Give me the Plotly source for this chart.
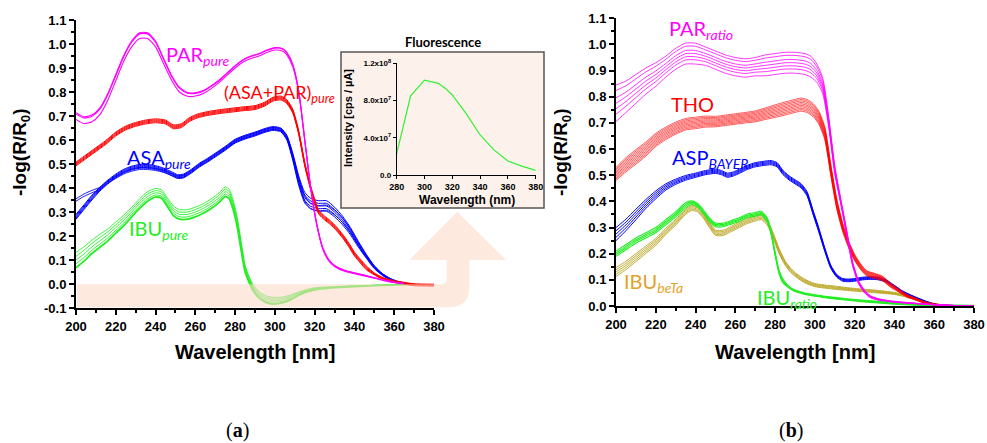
import plotly.graph_objects as go

W, H = 987, 443
def px(x): return x / W
def py(y): return 1 - y / H

# ---------------- Panel (a) data ----------------
WL_PAR_A = [200,204,208,212,216,220,224,228,232,236,240,244,248,252,256,260,264,268,272,276,280,284,288,292,296,300,304,306,309,312,315,318,321,324,327,330,335,340,345,350,355,360,365]
Y_PAR_A  = [0.70,0.683,0.69,0.72,0.78,0.86,0.94,1.00,1.035,1.035,1.00,0.93,0.86,0.81,0.79,0.79,0.80,0.82,0.845,0.875,0.905,0.93,0.945,0.955,0.97,0.98,0.975,0.96,0.91,0.80,0.60,0.40,0.25,0.15,0.10,0.075,0.055,0.045,0.035,0.025,0.015,0.007,0.002]
S_PAR_A  = [0.014,0.014,0.014,0.014,0.014,0.013,0.012,0.012,0.012,0.012,0.012,0.011,0.01,0.01,0.008,0.007,0.006,0.006,0.005,0.005,0.005,0.005,0.005,0.005,0.005,0.005,0.005,0.005,0.005,0.004,0.004,0.004,0.003,0.003,0.003,0.002,0.002,0.002,0.002,0.001,0.001,0.001,0.0]
K_PAR_A  = [1.0, 0.6, -1.0]

WL_MIX_A = [200,205,210,215,220,225,230,235,240,245,249,253,257,261,266,272,278,284,290,295,299,303,306,309,312,315,318,322,325,328,331,334,337,340,343,346,350,353,356,360,365,370,380]
Y_MIX_A  = [0.50,0.53,0.56,0.59,0.625,0.65,0.665,0.675,0.68,0.675,0.655,0.66,0.685,0.70,0.71,0.718,0.724,0.73,0.735,0.75,0.77,0.775,0.76,0.72,0.63,0.50,0.40,0.30,0.275,0.255,0.23,0.20,0.165,0.125,0.095,0.067,0.042,0.028,0.018,0.01,0.003,-0.003,-0.005]
S_MIX_A  = [0.008]*36 + [0.004]*7
K_MIX_A  = [-1.0, -0.5, 0.0, 0.5, 1.0]

WL_ASA_A = [200,204,208,212,216,220,224,228,232,236,240,244,248,251,254,258,262,266,270,275,280,285,290,295,299,303,306,309,312,315,318,322,326,330,334,338,342,346,350,354,358,362,366]
Y_ASA_A  = [0.28,0.32,0.36,0.395,0.425,0.45,0.47,0.483,0.49,0.49,0.485,0.475,0.46,0.448,0.45,0.47,0.495,0.515,0.537,0.565,0.595,0.612,0.625,0.64,0.648,0.642,0.61,0.53,0.43,0.36,0.335,0.325,0.325,0.30,0.265,0.22,0.165,0.115,0.07,0.04,0.02,0.008,0.002]
S_ASA_A  = [0.01,0.01,0.01,0.008,0.008,0.008,0.008,0.008,0.008,0.008,0.008,0.008,0.008,0.008,0.008,0.008,0.008,0.008,0.008,0.008,0.008,0.008,0.008,0.008,0.008,0.008,0.01,0.015,0.02,0.022,0.022,0.022,0.022,0.02,0.018,0.015,0.012,0.008,0.006,0.004,0.003,0.002,0.001]
D_ASA_ALT = [0.065,0.045,0.02,0.0,-0.005,-0.01,-0.012,-0.013,-0.013,-0.013,-0.012,-0.01,-0.008,-0.006,-0.005,-0.004,-0.004,-0.004,-0.004,-0.004,-0.004,-0.004,-0.004,-0.004,-0.004,-0.004,-0.004,-0.006,-0.01,-0.015,-0.02,-0.02,-0.018,-0.012,-0.008,-0.005,-0.004,-0.003,-0.002,-0.001,0.0,0.0,0.0]
K_ASA_A  = [-1.0, -0.5, 0.0, 0.5, 1.0]
K_ASA_ALT = [0.0, 1.0]

WL_IBU_A = [200,204,208,212,216,220,224,228,232,236,240,243,246,249,252,256,260,264,268,272,275,277,279,281,283,285,287,289,292,296,300,304,308,312,316,320,325,330,340,350,360,370]
Y_IBU_A  = [0.10,0.125,0.155,0.18,0.205,0.235,0.265,0.30,0.335,0.365,0.38,0.375,0.34,0.305,0.29,0.29,0.30,0.315,0.335,0.36,0.385,0.375,0.33,0.26,0.16,0.065,0.02,-0.015,-0.045,-0.065,-0.07,-0.066,-0.055,-0.04,-0.028,-0.02,-0.016,-0.013,-0.009,-0.006,-0.003,-0.001]
S_IBU_A  = [0.032,0.03,0.028,0.027,0.025,0.023,0.022,0.02,0.02,0.02,0.018,0.018,0.018,0.02,0.02,0.02,0.02,0.02,0.02,0.02,0.02,0.02,0.02,0.02,0.018,0.014,0.012,0.012,0.013,0.014,0.014,0.012,0.01,0.007,0.005,0.004,0.003,0.002,0.002,0.001,0.001,0.0]
K_IBU_A  = [-1.0, -0.5, 0.0, 0.5, 1.0]

# ---------------- Inset (fluorescence) ----------------
WL_FL = [280,290,300,310,315,320,330,340,350,360,370,380]
I_FL  = [2.3e7,8.5e7,10.2e7,9.85e7,9.3e7,8.6e7,6.6e7,4.3e7,2.7e7,1.5e7,0.95e7,0.5e7]

# ---------------- Panel (b) data ----------------
WL_PAR_B = [200,205,210,215,220,225,230,235,240,245,250,255,260,265,270,275,280,285,290,295,298,301,304,307,310,313,316,319,322,325,328,332,336,340,350,360,370,380]
Y_PAR_B  = [0.775,0.80,0.83,0.86,0.885,0.915,0.945,0.965,0.965,0.955,0.94,0.925,0.915,0.91,0.915,0.92,0.925,0.93,0.93,0.925,0.915,0.89,0.84,0.70,0.52,0.40,0.28,0.16,0.09,0.055,0.035,0.025,0.02,0.016,0.01,0.005,0.002,0.0]
S_PAR_B  = [0.07,0.06,0.055,0.05,0.045,0.04,0.04,0.04,0.04,0.035,0.035,0.035,0.035,0.035,0.035,0.04,0.04,0.04,0.04,0.04,0.04,0.035,0.03,0.02,0.015,0.01,0.01,0.008,0.006,0.005,0.004,0.003,0.002,0.002,0.001,0.001,0.0,0.0]
K_PAR_B  = [-1.0, -0.6, -0.3, 0.0, 0.3, 0.7, 1.0]

WL_THO_B = [200,205,210,215,220,225,230,235,240,245,250,255,260,265,270,275,280,285,290,293,296,299,302,305,308,311,314,317,320,323,326,330,334,338,342,346,350,355,360,365,370,380]
Y_THO_B  = [0.505,0.54,0.57,0.60,0.635,0.66,0.68,0.695,0.70,0.705,0.705,0.71,0.715,0.72,0.725,0.735,0.745,0.755,0.765,0.77,0.765,0.75,0.72,0.66,0.52,0.39,0.30,0.235,0.185,0.15,0.125,0.115,0.105,0.08,0.06,0.04,0.028,0.014,0.006,0.003,0.001,0.0]
S_THO_B  = [0.025,0.027,0.028,0.027,0.025,0.024,0.023,0.022,0.022,0.021,0.02,0.02,0.02,0.02,0.021,0.022,0.024,0.025,0.025,0.025,0.025,0.025,0.025,0.025,0.022,0.02,0.016,0.013,0.012,0.011,0.01,0.01,0.009,0.008,0.006,0.005,0.004,0.003,0.002,0.001,0.0,0.0]
K_THO_B  = [-1.0, -0.78, -0.56, -0.33, -0.11, 0.11, 0.33, 0.56, 0.78, 1.0]

WL_ASP_B = [200,205,210,215,220,225,230,235,240,245,250,253,256,259,262,266,270,274,278,281,284,287,290,293,296,299,302,305,308,311,314,317,320,324,328,332,336,340,344,348,352,356,360,365,370,380]
Y_ASP_B  = [0.275,0.31,0.35,0.39,0.425,0.455,0.475,0.49,0.50,0.51,0.515,0.51,0.50,0.505,0.515,0.53,0.54,0.545,0.548,0.54,0.51,0.49,0.475,0.46,0.43,0.36,0.29,0.215,0.15,0.115,0.10,0.098,0.10,0.105,0.107,0.105,0.095,0.075,0.055,0.04,0.028,0.016,0.007,0.002,0.0,0.0]
S_ASP_B  = [0.025,0.022,0.02,0.017,0.015,0.012,0.01,0.009,0.008,0.008,0.008,0.008,0.008,0.008,0.008,0.008,0.008,0.008,0.008,0.008,0.008,0.008,0.008,0.008,0.008,0.008,0.008,0.007,0.006,0.005,0.005,0.005,0.005,0.005,0.005,0.005,0.004,0.004,0.003,0.003,0.002,0.002,0.001,0.0,0.0,0.0]
K_ASP_B  = [-1.0, -0.5, 0.0, 0.5, 1.0]

WL_IBR_B = [200,205,210,215,220,225,230,235,238,241,244,247,250,254,258,262,266,270,273,276,278,280,282,284,287,290,295,300,310,320,330,340,350,360,370,380]
Y_IBR_B  = [0.20,0.225,0.25,0.27,0.29,0.32,0.35,0.385,0.395,0.385,0.36,0.33,0.31,0.31,0.32,0.33,0.345,0.35,0.355,0.33,0.28,0.20,0.13,0.095,0.072,0.058,0.047,0.04,0.03,0.022,0.016,0.01,0.006,0.003,0.001,0.0]
S_IBR_B  = [0.01]*8 + [0.007]*16 + [0.003]*12
K_IBR_B  = [-1.0, -0.3, 0.3, 1.0]

WL_IBT_B = [200,205,210,215,220,225,230,235,238,241,244,247,250,254,258,262,266,270,273,276,279,282,285,288,291,295,300,310,320,330,340,345,350,355,360,365,370,380]
Y_IBT_B  = [0.13,0.155,0.185,0.215,0.245,0.285,0.32,0.36,0.375,0.37,0.345,0.31,0.28,0.28,0.295,0.31,0.325,0.335,0.34,0.32,0.27,0.21,0.165,0.135,0.115,0.095,0.08,0.07,0.062,0.056,0.048,0.04,0.028,0.017,0.008,0.003,0.001,0.0]
S_IBT_B  = [0.017,0.016,0.015,0.014,0.013,0.012,0.011,0.01,0.01,0.01,0.01,0.01,0.01,0.01,0.01,0.01,0.01,0.01,0.01,0.01,0.01,0.01,0.008,0.008,0.007,0.007,0.006,0.006,0.005,0.005,0.004,0.004,0.003,0.002,0.002,0.001,0.0,0.0]
K_IBT_B  = [-1.0, -0.5, 0.0, 0.5, 1.0]

MAGENTA = "#ff00ff"; RED = "#ff0000"; BLUE = "#0000ff"; GREEN = "#22ee22"
OLIVE = "#b8a41e"; OLIVE_TXT = "#e3a22a"

fig = go.Figure()

def bundle(wl, y, s, ks, color, xa, ya, width=1.0, extra=None, extra_w=None):
    for i, k in enumerate(ks):
        yy = [yv + k * sv + (extra[j] if extra else 0.0) for j, (yv, sv) in enumerate(zip(y, s))]
        w = width if extra_w is None else extra_w[i]
        fig.add_trace(go.Scatter(x=wl, y=yy, mode="lines", xaxis=xa, yaxis=ya,
                                 line=dict(color=color, width=w, shape="spline", smoothing=0.6),
                                 hoverinfo="skip", showlegend=False))

# panel (a)
bundle(WL_IBU_A, Y_IBU_A, S_IBU_A, K_IBU_A, GREEN, "x", "y", width=0.9, extra_w=[1.8, 0.9, 0.9, 0.9, 0.9])
bundle(WL_ASA_A, Y_ASA_A, S_ASA_A, K_ASA_A, BLUE, "x", "y", width=1.0)
bundle(WL_ASA_A, Y_ASA_A, S_ASA_A, K_ASA_ALT, BLUE, "x", "y", width=0.9, extra=D_ASA_ALT)
bundle(WL_MIX_A, Y_MIX_A, S_MIX_A, K_MIX_A, RED, "x", "y", width=1.0)
bundle(WL_PAR_A, Y_PAR_A, S_PAR_A, K_PAR_A, MAGENTA, "x", "y", width=1.1)

# inset
fig.add_trace(go.Scatter(x=WL_FL, y=I_FL, mode="lines", xaxis="x3", yaxis="y3",
                         line=dict(color="#33ee33", width=1.2), hoverinfo="skip", showlegend=False))

# panel (b)
bundle(WL_IBT_B, Y_IBT_B, S_IBT_B, K_IBT_B, OLIVE, "x2", "y2", width=0.9)
bundle(WL_IBR_B, Y_IBR_B, S_IBR_B, K_IBR_B, GREEN, "x2", "y2", width=1.1)
bundle(WL_ASP_B, Y_ASP_B, S_ASP_B, K_ASP_B, BLUE, "x2", "y2", width=1.0)
bundle(WL_THO_B, Y_THO_B, S_THO_B, K_THO_B, RED, "x2", "y2", width=0.65)
bundle(WL_PAR_B, Y_PAR_B, S_PAR_B, K_PAR_B, MAGENTA, "x2", "y2", width=0.8)

AX_FONT = "Liberation Sans"
TICKFONT = dict(family=AX_FONT, size=13, color="black", weight="bold")
X_TICKS = [200,220,240,260,280,300,320,340,360,380]
YA_TICKS = [-0.1,0.0,0.1,0.2,0.3,0.4,0.5,0.6,0.7,0.8,0.9,1.0,1.1]
YB_TICKS = [0.0,0.1,0.2,0.3,0.4,0.5,0.6,0.7,0.8,0.9,1.0,1.1]

def ax_common():
    return dict(showline=True, linecolor="black", linewidth=2, ticks="outside", ticklen=5,
                tickwidth=1.5, tickcolor="black", showgrid=False, zeroline=False,
                tickfont=TICKFONT, fixedrange=True, automargin=False)

MINOR_X = dict(ticks="outside", dtick=10, ticklen=3, tickwidth=1.5, tickcolor="black")
MINOR_Y = dict(ticks="outside", dtick=0.05, ticklen=3, tickwidth=1.5, tickcolor="black")

fig.update_layout(
    template="none",
    width=W, height=H, margin=dict(l=0, r=0, t=0, b=0, autoexpand=False),
    paper_bgcolor="white", plot_bgcolor="rgba(0,0,0,0)",
    xaxis=dict(domain=[px(76), px(434)], range=[200, 380], anchor="y", tickvals=X_TICKS,
               ticktext=[str(v) for v in X_TICKS], minor=MINOR_X, **ax_common()),
    yaxis=dict(domain=[py(308), py(20)], range=[-0.1, 1.1], anchor="x", tickvals=YA_TICKS,
               ticktext=["-0.1" if v < 0 else f"{v:.1f}" for v in YA_TICKS], minor=MINOR_Y, **ax_common()),
    xaxis2=dict(domain=[px(616), px(974)], range=[200, 380], anchor="y2", tickvals=X_TICKS,
                ticktext=[str(v) for v in X_TICKS], minor=MINOR_X, **ax_common()),
    yaxis2=dict(domain=[py(306), py(18.3)], range=[0, 1.1], anchor="x2", tickvals=YB_TICKS,
                ticktext=[f"{v:.1f}" for v in YB_TICKS], minor=MINOR_Y, **ax_common()),
    xaxis3=dict(domain=[px(396.7), px(535.7)], range=[280, 380], anchor="y3", tickvals=[280,300,320,340,360,380],
                ticktext=["280","300","320","340","360","380"],
                showline=True, linecolor="black", linewidth=1, ticks="outside", ticklen=3, tickwidth=1,
                tickcolor="black", showgrid=False, zeroline=False, fixedrange=True, automargin=False,
                tickfont=dict(family=AX_FONT, size=9, color="black", weight="bold")),
    yaxis3=dict(domain=[py(175), py(63.3)], range=[0, 1.2e8], anchor="x3", tickvals=[0, 4e7, 8e7, 1.2e8],
                ticktext=["0.0", "4.0x10<sup>7</sup>", "8.0x10<sup>7</sup>", "1.2x10<sup>8</sup>"],
                showline=True, linecolor="black", linewidth=1, ticks="outside", ticklen=3, tickwidth=1,
                tickcolor="black", showgrid=False, zeroline=False, fixedrange=True, automargin=False,
                tickfont=dict(family=AX_FONT, size=8, color="black", weight="bold")),
)

# inset frame (below traces)
fig.add_shape(type="rect", xref="paper", yref="paper", x0=px(341), x1=px(544), y0=py(208), y1=py(52),
              fillcolor="#fcf2eb", line=dict(color="#555555", width=1.5), layer="below")

# bent arrow from the baseline band up to the inset
def P(x, y): return f"{px(x):.5f},{py(y):.5f}"
path = ("M " + P(77, 284.3) + " L " + P(441, 284.3) + " Q " + P(446.7, 284.3) + " " + P(446.7, 279) +
        " L " + P(446.7, 260) + " L " + P(409.3, 260) + " L " + P(457.3, 211.7) + " L " + P(506, 260) +
        " L " + P(469.3, 260) + " L " + P(469.3, 287) + " Q " + P(469.3, 307.3) + " " + P(449, 307.3) +
        " L " + P(77, 307.3) + " Z")
fig.add_shape(type="path", xref="paper", yref="paper", path=path,
              fillcolor="rgba(252,218,198,0.6)", line=dict(width=0), layer="above")

LBL = "Lato"
def label(text, x, y, color, size=20, anchor="left"):
    fig.add_annotation(text=text, x=px(x), y=py(y), xref="paper", yref="paper", xanchor=anchor,
                       yanchor="middle", showarrow=False, font=dict(family=LBL, size=size, color=color))

label("PAR<sub><i>pure</i></sub>", 164, 55, MAGENTA)
label("(ASA+PAR)<sub><i>pure</i></sub>", 222, 94, RED, size=18)
label("ASA<sub><i>pure</i></sub>", 125, 158, BLUE)
label("IBU<sub><i>pure</i></sub>", 127, 229, GREEN)

label("PAR<sub><i>ratio</i></sub>", 667, 30, MAGENTA)
label("THO", 669, 104, RED)
label("ASP<sub><i>BAYER</i></sub>", 670, 158, BLUE)
label("IBU<sub><i>beTa</i></sub>", 622, 282, OLIVE_TXT)
label("IBU<sub><i>ratio</i></sub>", 755, 298, GREEN)

# axis titles
TFONT = dict(family=AX_FONT, size=20, color="black", weight="bold")
fig.add_annotation(text="Wavelength [nm]", x=px(255), y=py(352), xref="paper", yref="paper",
                   showarrow=False, font=TFONT, xanchor="center", yanchor="middle")
fig.add_annotation(text="Wavelength [nm]", x=px(795), y=py(352), xref="paper", yref="paper",
                   showarrow=False, font=TFONT, xanchor="center", yanchor="middle")
fig.add_annotation(text="-log(R/R<sub>0</sub>)", x=px(21), y=py(152), xref="paper", yref="paper",
                   showarrow=False, font=dict(TFONT, size=19), textangle=-90, xanchor="center", yanchor="middle")
fig.add_annotation(text="-log(R/R<sub>0</sub>)", x=px(562), y=py(152), xref="paper", yref="paper",
                   showarrow=False, font=dict(TFONT, size=19), textangle=-90, xanchor="center", yanchor="middle")

# inset texts
fig.add_annotation(text="Fluorescence", x=px(443), y=py(42), xref="paper", yref="paper", showarrow=False,
                   font=dict(family=LBL, size=13, color="black", weight="bold"), xanchor="center", yanchor="middle")
fig.add_annotation(text="Intensity [cps / µA]", x=px(348), y=py(118), xref="paper", yref="paper", showarrow=False,
                   font=dict(family=AX_FONT, size=11, color="black", weight="bold"),
                   textangle=-90, xanchor="center", yanchor="middle")
fig.add_annotation(text="Wavelength (nm)", x=px(467), y=py(200), xref="paper", yref="paper", showarrow=False,
                   font=dict(family=AX_FONT, size=12, color="black", weight="bold"),
                   xanchor="center", yanchor="middle")

# panel letters
fig.add_annotation(text="(<b>a</b>)", x=px(237), y=py(430), xref="paper", yref="paper", showarrow=False,
                   font=dict(family="Liberation Serif", size=20, color="black"), xanchor="center", yanchor="middle")
fig.add_annotation(text="(<b>b</b>)", x=px(791), y=py(430), xref="paper", yref="paper", showarrow=False,
                   font=dict(family="Liberation Serif", size=20, color="black"), xanchor="center", yanchor="middle")

fig.write_html("out.html")
